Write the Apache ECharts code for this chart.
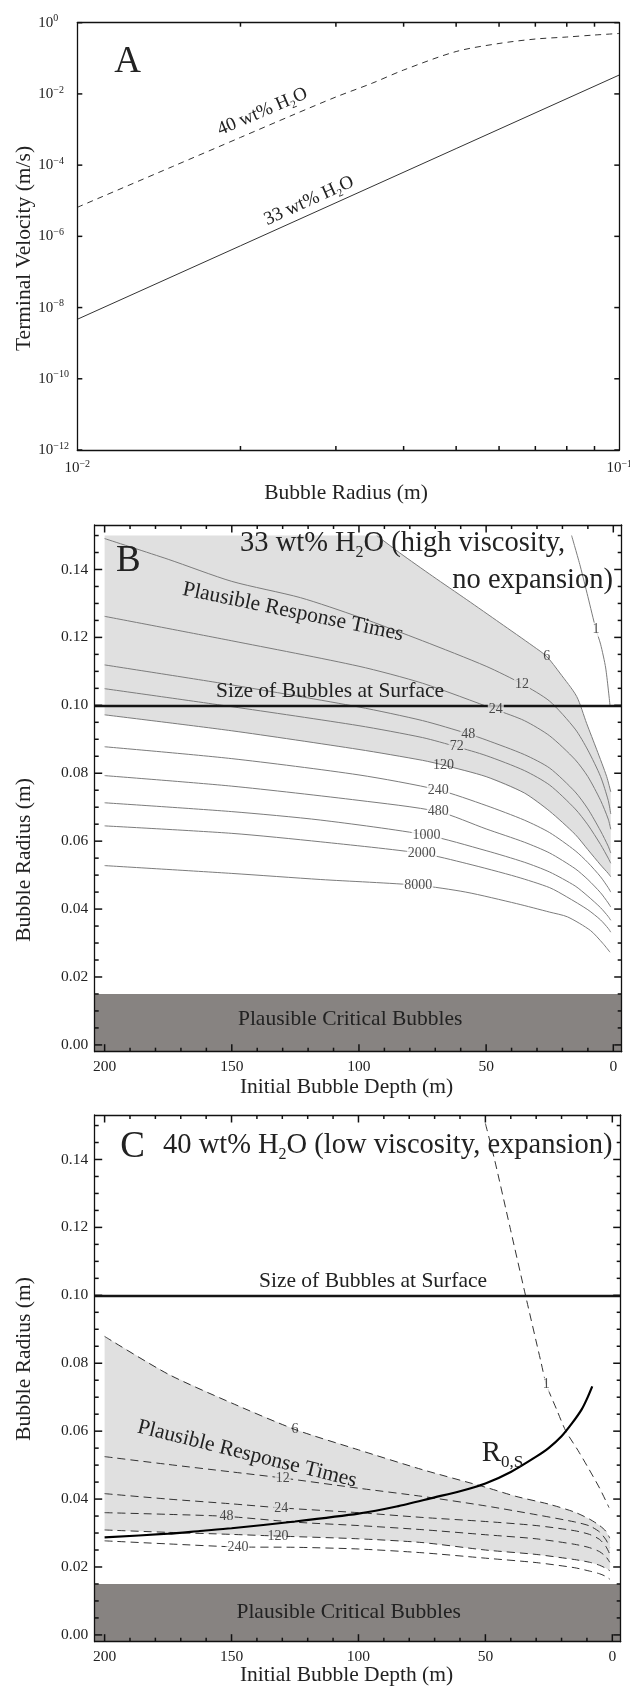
<!DOCTYPE html>
<html>
<head>
<meta charset="utf-8">
<script src="https://cdn.jsdelivr.net/npm/echarts@6/dist/echarts.min.js"></script>
<style>
html,body{margin:0;padding:0;background:#fff}
#main{width:630px;height:1689px}
</style>
</head>
<body>
<div id="main"></div>
<script>
// ---------- Panel A: terminal velocity vs bubble radius ----------
const radius40 = [0.01, 0.015, 0.02, 0.025, 0.03, 0.035, 0.04, 0.05, 0.06, 0.07, 0.08, 0.09, 0.1];
const velocity40 = [6.53e-6, 9.18e-5, 6.0e-4, 2.57e-3, 8.2e-3, 2.0e-2, 4.69e-2, 0.155, 0.261, 0.348, 0.396, 0.451, 0.498];
const radius33 = [0.01, 0.02, 0.05, 0.1];
const velocity33 = [4.68e-9, 5.43e-7, 2.92e-4, 3.4e-2];
// frame tick positions of panel A
const radiusTicksA = [0.02, 0.03, 0.04, 0.05, 0.06, 0.07, 0.08, 0.09];
const velocityTicksA = [1e-12, 1e-10, 1e-8, 1e-6, 1e-4, 1e-2, 1];

// ---------- Panel B: 33 wt% H2O response-time contours [depth m, radius m] ----------
const b1 = [[16.4,0.150],[13,0.141],[10,0.132],[6.8,0.1223],[5,0.118],[3,0.111],[1.3,0.100]];
const b6 = [[93,0.150],[84,0.1449],[71,0.138],[57.6,0.1311],[44.6,0.1243],[31.5,0.1174],[26.2,0.1144],[21,0.1095],[14.4,0.1026],[10.5,0.0947],[6.5,0.0869],[2.6,0.079],[1,0.0745]];
const b12 = [[200,0.1491],[175,0.143],[150,0.1365],[123,0.1317],[100,0.126],[75,0.119],[50,0.1115],[35.9,0.1063],[25,0.1012],[15,0.093],[10,0.0868],[5,0.079],[2,0.072],[1,0.068]];
const b24 = [[200,0.1262],[150,0.119],[100,0.1115],[75,0.1065],[46.2,0.0987],[35,0.0955],[25,0.091],[15,0.084],[10,0.079],[5,0.072],[2,0.0665],[1,0.0635]];
const b48 = [[200,0.1119],[150,0.106],[100,0.0995],[75,0.0955],[57,0.0916],[50,0.0898],[35,0.0855],[25,0.0815],[15,0.0745],[10,0.0695],[5,0.063],[2,0.0585],[1,0.0565]];
const b72 = [[200,0.1049],[150,0.0996],[100,0.094],[75,0.0905],[61.6,0.0878],[50,0.0852],[35,0.0808],[25,0.0765],[15,0.0695],[10,0.0648],[5,0.059],[2,0.055],[1,0.0535]];
const b120 = [[200,0.0972],[150,0.0925],[100,0.087],[75,0.0838],[66.8,0.0824],[50,0.079],[35,0.0742],[25,0.0688],[15,0.062],[10,0.0575],[5,0.053],[2,0.0505],[1,0.0495]];
const b240 = [[200,0.0878],[150,0.0843],[100,0.0795],[68.8,0.0751],[50,0.0705],[35,0.0662],[25,0.0625],[15,0.0572],[10,0.0537],[5,0.0495],[2,0.0463],[1,0.045]];
const b480 = [[200,0.0793],[150,0.0762],[100,0.072],[68.8,0.0687],[50,0.0636],[35,0.0597],[25,0.0565],[15,0.0519],[10,0.0487],[5,0.0448],[2,0.0418],[1,0.0406]];
const b1000 = [[200,0.0713],[150,0.0687],[115,0.0662],[73.4,0.0618],[50,0.0572],[35,0.0538],[25,0.0509],[15,0.0468],[10,0.0438],[5,0.0404],[2,0.0378],[1,0.0367]];
const b2000 = [[200,0.0645],[150,0.0623],[115,0.0598],[75.3,0.0564],[57.6,0.0534],[38,0.0495],[25,0.0463],[18.3,0.0436],[10,0.0398],[5,0.0368],[2,0.0343],[1,0.0332]];
const b8000 = [[200,0.0528],[150,0.0505],[115,0.0487],[76.7,0.047],[58,0.045],[38,0.0416],[25,0.0391],[18,0.0377],[9,0.0337],[4,0.0298],[1.3,0.0273]];
const levelsB = [1, 6, 12, 24, 48, 72, 120, 240, 480, 1000, 2000, 8000];
const labelDepthB = [6.8, 26.2, 35.9, 46.2, 57, 61.6, 66.8, 68.8, 68.8, 73.4, 75.3, 76.7];

// ---------- Panel C: 40 wt% H2O response-time contours ----------
const c1 = [[50,0.1506],[46.4,0.14],[40.3,0.12],[34.2,0.10],[28,0.08],[26,0.0737],[22,0.0665],[18.3,0.060],[13.5,0.0543],[9.2,0.0488],[5,0.0432],[1.3,0.0375]];
const c6 = [[200,0.0879],[175,0.0768],[150,0.0683],[125,0.0605],[100,0.0545],[75,0.0487],[50,0.0435],[38,0.0408],[25,0.0385],[15,0.0362],[9,0.0341],[5,0.0322],[2.5,0.0305],[1,0.0285]];
const c12 = [[200,0.0525],[175,0.0502],[150,0.048],[129.8,0.0462],[100,0.0432],[75,0.0408],[50,0.038],[30,0.0354],[15,0.0333],[9,0.0321],[5,0.0303],[2.5,0.028],[1,0.0258]];
const c24 = [[200,0.0416],[175,0.04],[150,0.0386],[130.4,0.0374],[100,0.036],[75,0.0346],[50,0.0334],[30,0.0322],[15,0.0307],[9,0.0296],[5,0.0281],[2.5,0.026],[1,0.0238]];
const c48 = [[200,0.036],[175,0.0355],[152,0.0349],[125,0.0332],[100,0.0322],[75,0.031],[50,0.0295],[30,0.0283],[15,0.0267],[9,0.0257],[5,0.0245],[2.5,0.023],[1,0.0214]];
const c120 = [[200,0.0309],[175,0.0302],[150,0.0296],[131.7,0.0291],[100,0.0283],[75,0.0272],[50,0.025],[30,0.0237],[15,0.0222],[9,0.0214],[5,0.0205],[2.5,0.0196],[1,0.0189]];
const c240 = [[200,0.0277],[175,0.0268],[147.5,0.0259],[125,0.0258],[100,0.0253],[75,0.0242],[50,0.0226],[30,0.0213],[15,0.0198],[9,0.0188],[5,0.018],[2.5,0.0172],[1,0.0164]];
const cR0S = [[200,0.0287],[175,0.0298],[162.5,0.0306],[150,0.0314],[125,0.0334],[100,0.0357],[85,0.0378],[70,0.0405],[60,0.0423],[50,0.0446],[40,0.048],[30,0.0525],[25,0.0551],[20,0.0585],[15.7,0.0625],[12,0.0665],[10,0.0695],[7.9,0.0732]];
const levelsC = [1, 6, 12, 24, 48, 120, 240];
const labelDepthC = [26, 125, 129.8, 130.4, 152, 131.7, 147.5];

// Reference levels shared by B and C
const surfaceRadius = 0.1;
const criticalRadius = 0.015;

// frame tick positions of panels B and C
const depthTicksMajor = [0, 50, 100, 150, 200];
const depthTicksMinor = [10, 20, 30, 40, 60, 70, 80, 90, 110, 120, 130, 140, 160, 170, 180, 190];
const radiusTicksMajor = [0, 0.02, 0.04, 0.06, 0.08, 0.10, 0.12, 0.14];
const radiusTicksMinor = [0.005, 0.01, 0.015, 0.025, 0.03, 0.035, 0.045, 0.05, 0.055, 0.065, 0.07, 0.075,
                          0.085, 0.09, 0.095, 0.105, 0.11, 0.115, 0.125, 0.13, 0.135, 0.145, 0.15];

// ---------- styling ----------
const FONT = "'Liberation Serif', 'Times New Roman', serif";
const INK = '#222';
const FRAME = '#111';
const LIGHT = '#e0e0e0';
const DARK = '#878381';
const CONTOUR_B = '#7c7c7c';
const CONTOUR_C = '#333';

const depthMin = -3.3, depthMax = 203.9;
const radMin = -0.002, radMax = 0.1531;

const chart = echarts.init(document.getElementById('main'), null, {renderer: 'canvas'});

const powRich = {
  b: {fontFamily: FONT, fontSize: 15, lineHeight: 18, color: INK},
  s: {fontFamily: FONT, fontSize: 10, lineHeight: 10, verticalAlign: 'top', color: INK}
};
function powLabel(v) {
  const e = Math.round(v);
  return '{b|10}{s|' + (e < 0 ? '\u2212' + (-e) : String(e)) + '}';
}

const axisFrame = {
  z: 20,
  axisLine: {show: true, onZero: false, lineStyle: {color: FRAME, width: 1.3}},
  axisTick: {show: false},
  minorTick: {show: false},
  splitLine: {show: false}
};

function depthAxis(gi, pos, withLabels) {
  return Object.assign({
    gridIndex: gi, type: 'value', position: pos, inverse: true,
    min: depthMin, max: depthMax, splitNumber: 5,
    axisLabel: withLabels ? {
      margin: 7, fontFamily: FONT, fontSize: 15.5, color: INK,
      formatter: v => (Math.abs(v / 50 - Math.round(v / 50)) < 1e-6 ? String(Math.round(v)) : '')
    } : {show: false}
  }, axisFrame);
}
function radiusAxis(gi, pos, withLabels) {
  return Object.assign({
    gridIndex: gi, type: 'value', position: pos,
    min: radMin, max: radMax, splitNumber: 8,
    axisLabel: withLabels ? {
      margin: 6.5, fontFamily: FONT, fontSize: 15.5, color: INK,
      formatter: v => (Math.abs(v / 0.02 - Math.round(v / 0.02)) < 1e-6 ? Math.abs(v).toFixed(2) : '')
    } : {show: false}
  }, axisFrame);
}

// inward ticks on all four sides of a frame; each tick is [axisValue, length]
function frameTicks(xi, yi, xEdge, yEdge, xTicks, yTicks) {
  const items = xTicks.map(t => ({v: t[0], len: t[1], onY: false}))
    .concat(yTicks.map(t => ({v: t[0], len: t[1], onY: true})));
  const seg = (x1, y1, x2, y2) => ({type: 'line', shape: {x1: x1, y1: y1, x2: x2, y2: y2},
                                    style: {stroke: FRAME, lineWidth: 1.5, fill: null}});
  return {
    type: 'custom', xAxisIndex: xi, yAxisIndex: yi, silent: true, z: 30, clip: false,
    data: [[xEdge[0], yEdge[0]]],
    renderItem: (params, api) => {
      const children = [];
      items.forEach(t => {
        if (!t.onY) {
          const b = api.coord([t.v, yEdge[0]]), top = api.coord([t.v, yEdge[1]]);
          children.push(seg(b[0], b[1], b[0], b[1] - t.len), seg(top[0], top[1], top[0], top[1] + t.len));
        } else {
          const l = api.coord([xEdge[0], t.v]), r = api.coord([xEdge[1], t.v]);
          children.push(seg(l[0], l[1], l[0] + t.len, l[1]), seg(r[0], r[1], r[0] - t.len, r[1]));
        }
      });
      return {type: 'group', children: children};
    }
  };
}

function contour(xi, yi, data, color, dashed) {
  return {
    type: 'line', xAxisIndex: xi, yAxisIndex: yi, data: data,
    symbol: 'none', smooth: 0.25, silent: true, z: 3,
    lineStyle: {color: color, width: 1, type: dashed ? [8, 5] : 'solid'}
  };
}

function contourLabels(xi, yi, curves, levels, depths, backgrounds) {
  return {
    type: 'scatter', xAxisIndex: xi, yAxisIndex: yi, silent: true, z: 6,
    symbol: 'circle', symbolSize: 1, itemStyle: {color: 'rgba(0,0,0,0)'},
    label: {show: true, position: 'inside', fontFamily: FONT, fontSize: 14, color: INK},
    data: curves.map((c, i) => {
      const p = c.find(q => q[0] === depths[i]);
      return {
        value: p,
        label: {formatter: String(levels[i]), color: INK, backgroundColor: backgrounds[i], padding: [0, 1]}
      };
    })
  };
}

function polygon(xi, yi, pts, color) {
  return {
    type: 'custom', xAxisIndex: xi, yAxisIndex: yi, silent: true, z: 1,
    data: [[pts[0][0], pts[0][1]]],
    renderItem: (params, api) => ({
      type: 'polygon',
      shape: {points: pts.map(p => api.coord(p))},
      style: {fill: color}
    })
  };
}

function bands(xi, yi, labelOffset) {
  // dark critical-bubble band and the surface-size line
  return {
    type: 'line', xAxisIndex: xi, yAxisIndex: yi, data: [], silent: true, z: 4,
    markArea: {
      silent: true,
      itemStyle: {color: DARK},
      label: {show: true, position: 'inside', offset: labelOffset, formatter: 'Plausible Critical Bubbles',
              fontFamily: FONT, fontSize: 21.5, color: INK},
      data: [[{yAxis: radMin}, {yAxis: criticalRadius}]]
    },
    markLine: {
      silent: true, symbol: 'none', animation: false,
      label: {show: false},
      lineStyle: {color: '#151515', width: 2.4, type: 'solid'},
      data: [{yAxis: surfaceRadius}]
    }
  };
}

function chemRich(size, subSize, subLH) {
  return {
    n: {fontFamily: FONT, fontSize: size, lineHeight: Math.round(size * 1.2), fill: INK, color: INK},
    s: {fontFamily: FONT, fontSize: subSize, lineHeight: subLH, verticalAlign: 'bottom', fill: INK, color: INK}
  };
}
function txt(x, y, text, size, o) {
  o = o || {};
  return {
    type: 'text', x: x, y: y, z: 100, rotation: (o.rot || 0) * Math.PI / 180,
    style: {
      text: text, fontFamily: FONT, fontSize: size, fill: INK,
      align: o.align || 'center', verticalAlign: 'middle', rich: o.rich
    }
  };
}

const grayB = [[200, 0.15]].concat(b6, b120.slice().reverse());
const grayC = c6.concat(c120.slice().reverse());
const curvesB = [b1, b6, b12, b24, b48, b72, b120, b240, b480, b1000, b2000, b8000];
const curvesC = [c1, c6, c12, c24, c48, c120, c240];
const bgB = ['#fff', 'transparent', LIGHT, LIGHT, LIGHT, LIGHT, 'transparent', '#fff', '#fff', '#fff', '#fff', '#fff'];
const bgC = ['#fff', 'transparent', LIGHT, LIGHT, LIGHT, 'transparent', '#fff'];

const depthTicks = depthTicksMajor.map(v => [v, 7.5]).concat(depthTicksMinor.map(v => [v, 4]));
const radiusTicks = radiusTicksMajor.map(v => [v, 7.5]).concat(radiusTicksMinor.map(v => [v, 4]));

const option = {
  animation: false,
  backgroundColor: '#fff',
  grid: [
    {left: 77.3, top: 22.7, width: 542, height: 427.3, containLabel: false, outerBoundsMode: 'none'},
    {left: 94.7, top: 525, width: 527, height: 526.7, containLabel: false, outerBoundsMode: 'none'},
    {left: 94.7, top: 1115, width: 526, height: 526.7, containLabel: false, outerBoundsMode: 'none'}
  ],
  xAxis: [
    Object.assign({gridIndex: 0, type: 'value', position: 'bottom', min: -2, max: -1, interval: 1,
      axisLabel: {margin: 9, formatter: powLabel, rich: powRich}}, axisFrame),
    Object.assign({gridIndex: 0, type: 'value', position: 'top', min: -2, max: -1, interval: 1,
      axisLabel: {show: false}}, axisFrame),
    depthAxis(1, 'bottom', true), depthAxis(1, 'top', false),
    depthAxis(2, 'bottom', true), depthAxis(2, 'top', false)
  ],
  yAxis: [
    Object.assign({gridIndex: 0, type: 'value', position: 'left', min: -12, max: 0, interval: 2,
      axisLabel: {align: 'left', margin: 39, formatter: powLabel, rich: powRich}}, axisFrame),
    Object.assign({gridIndex: 0, type: 'value', position: 'right', min: -12, max: 0, interval: 2,
      axisLabel: {show: false}}, axisFrame),
    radiusAxis(1, 'left', true), radiusAxis(1, 'right', false),
    radiusAxis(2, 'left', true), radiusAxis(2, 'right', false)
  ],
  series: [
    // Panel A (log10 of radius and velocity on linear axes)
    {
      type: 'line', xAxisIndex: 0, yAxisIndex: 0, symbol: 'none', smooth: 0.3, silent: true,
      lineStyle: {color: '#333', width: 1, type: [6, 5]},
      data: radius40.map((r, i) => [Math.log10(r), Math.log10(velocity40[i])])
    },
    {
      type: 'line', xAxisIndex: 0, yAxisIndex: 0, symbol: 'none', silent: true,
      lineStyle: {color: '#333', width: 1},
      data: radius33.map((r, i) => [Math.log10(r), Math.log10(velocity33[i])])
    },
    frameTicks(0, 0, [-2, -1], [-12, 0],
      radiusTicksA.map(r => [Math.log10(r), 4]),
      velocityTicksA.map(v => [Math.log10(v), 5])),

    // Panel B
    polygon(2, 2, grayB, LIGHT),
    bands(2, 2, [-8, -3]),
    ...curvesB.map(c => contour(2, 2, c, CONTOUR_B, false)),
    contourLabels(2, 2, curvesB, levelsB, labelDepthB, bgB),
    frameTicks(2, 2, [depthMax, depthMin], [radMin, radMax], depthTicks, radiusTicks),

    // Panel C
    polygon(4, 4, grayC, LIGHT),
    bands(4, 4, [-9, 0]),
    ...curvesC.map(c => contour(4, 4, c, CONTOUR_C, true)),
    {
      type: 'line', xAxisIndex: 4, yAxisIndex: 4, data: cR0S, symbol: 'none', smooth: 0.25,
      silent: true, z: 4, lineStyle: {color: '#000', width: 2.2}
    },
    contourLabels(4, 4, curvesC, levelsC, labelDepthC, bgC),
    frameTicks(4, 4, [depthMax, depthMin], [radMin, radMax], depthTicks, radiusTicks)
  ],
  graphic: [
    // Panel A
    txt(127.5, 62.5, 'A', 37),
    txt(262.5, 111.7, '{n|40 wt% H}{s|2}{n|O}', 19, {rot: 23.2, rich: chemRich(19, 11, 12)}),
    txt(309, 200.8, '{n|33 wt% H}{s|2}{n|O}', 19, {rot: 24.3, rich: chemRich(19, 11, 12)}),
    txt(24, 248.5, 'Terminal Velocity (m/s)', 21.5, {rot: 90}),
    txt(346, 493.5, 'Bubble Radius (m)', 21.5),

    // Panel B
    txt(128.3, 560.8, 'B', 37),
    txt(240, 543.7, '{n|33 wt% H}{s|2}{n|O (high viscosity,}', 28.5, {align: 'left', rich: chemRich(28.5, 16, 20)}),
    txt(613, 580.4, 'no expansion)', 28.5, {align: 'right'}),
    txt(293, 612, 'Plausible Response Times', 21.5, {rot: -11.7}),
    txt(330, 691, 'Size of Bubbles at Surface', 21.5),
    txt(24, 860, 'Bubble Radius (m)', 21.5, {rot: 90}),
    txt(346.5, 1087.5, 'Initial Bubble Depth (m)', 21.5),

    // Panel C
    txt(132.5, 1147.5, 'C', 37),
    txt(163, 1145.4, '{n|40 wt% H}{s|2}{n|O (low viscosity, expansion)}', 28.5, {align: 'left', rich: chemRich(28.5, 16, 20)}),
    txt(373, 1281, 'Size of Bubbles at Surface', 21.5),
    txt(247, 1454, 'Plausible Response Times', 21.5, {rot: -14}),
    txt(481.7, 1453.3, '{n|R}{s|0,S}', 29, {align: 'left', rich: {
      n: {fontFamily: FONT, fontSize: 29, lineHeight: 35, fill: INK, color: INK},
      s: {fontFamily: FONT, fontSize: 17, lineHeight: 20, verticalAlign: 'bottom', fill: INK, color: INK}
    }}),
    txt(24, 1359, 'Bubble Radius (m)', 21.5, {rot: 90}),
    txt(346.5, 1675, 'Initial Bubble Depth (m)', 21.5)
  ]
};

chart.setOption(option);
</script>
</body>
</html>
